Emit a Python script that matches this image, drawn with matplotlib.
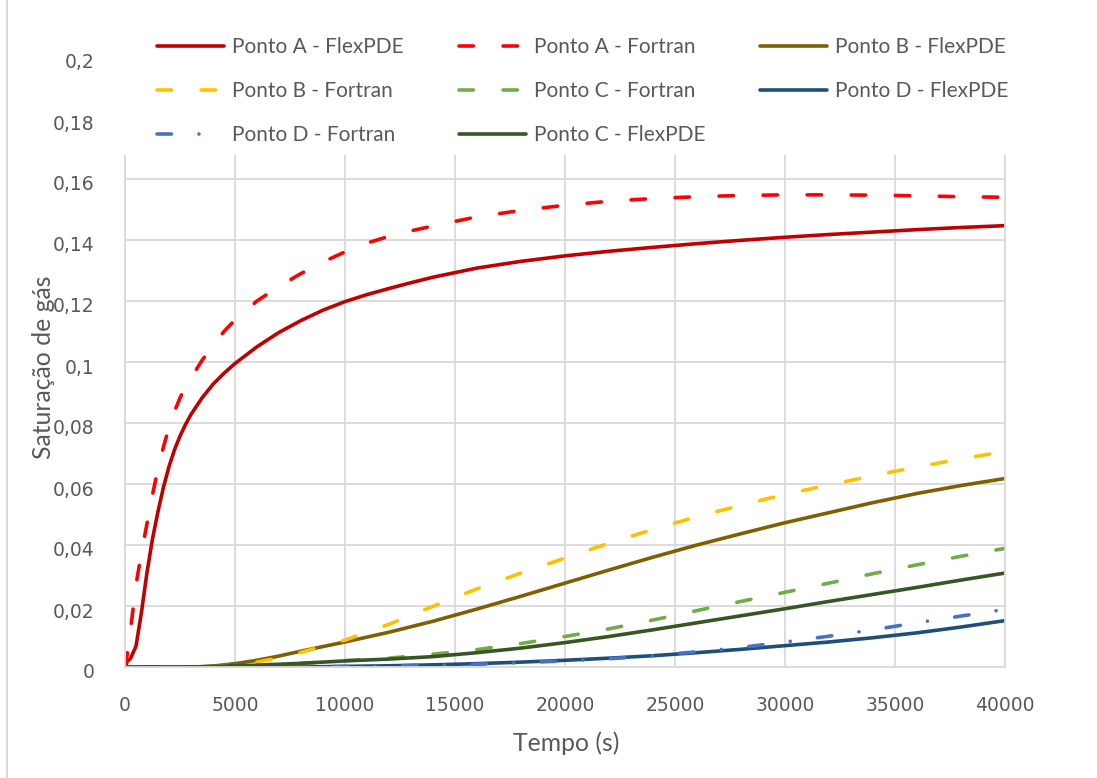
import matplotlib
matplotlib.use("Agg")
import matplotlib.pyplot as plt
from matplotlib.patches import Rectangle
from matplotlib.lines import Line2D
import matplotlib.transforms as mtransforms

# ---- data -------------------------------------------------------------
# point A reacts fast, so it is sampled more densely at early times
tempo_a = [0, 100, 250, 500, 750, 1000, 1250, 1500, 1750, 2000, 2250, 2500,
           2750, 3000, 3500, 4000, 4500, 5000, 6000, 7000, 8000, 9000, 10000,
           11000, 12000, 13000, 14000, 16000, 18000, 20000, 22000, 24000,
           26000, 28000, 30000, 32000, 34000, 36000, 38000, 40000]

a_flexpde = [0.000, 0.0018, 0.0028, 0.0068, 0.018, 0.031, 0.042, 0.051,
             0.059, 0.0657, 0.0712, 0.0757, 0.0795, 0.0828, 0.0882, 0.0927,
             0.0963, 0.0995, 0.1050, 0.1097, 0.1136, 0.1170, 0.1198, 0.1221,
             0.1241, 0.1260, 0.1278, 0.1308, 0.1330, 0.1348, 0.1363, 0.1376,
             0.1388, 0.1399, 0.1409, 0.1418, 0.1426, 0.1434, 0.1441, 0.1447]

a_fortran = [0.000, 0.004, 0.012, 0.027, 0.0375, 0.047, 0.0565, 0.065,
             0.0722, 0.0785, 0.0838, 0.0882, 0.0918, 0.0948, 0.1005, 0.1055,
             0.1100, 0.1138, 0.1200, 0.1248, 0.1290, 0.1328, 0.1361, 0.1390,
             0.1412, 0.1430, 0.1446, 0.1476, 0.1497, 0.1514, 0.1527, 0.1536,
             0.1542, 0.1546, 0.1548, 0.1548, 0.1547, 0.1545, 0.1542, 0.1540]

tempo = [0, 1000, 2000, 3000, 3500, 4000, 5000, 6000, 7000, 8000, 9000,
         10000, 12000, 14000, 16000, 18000, 20000, 22000, 24000, 26000,
         28000, 30000, 32000, 34000, 36000, 38000, 40000]

b_flexpde = [0, 0, 0, 0, 0.0001, 0.0003, 0.0011, 0.0022, 0.0036, 0.0052,
             0.0067, 0.0082, 0.0114, 0.0150, 0.0190, 0.0232, 0.0275, 0.0318,
             0.0360, 0.0400, 0.0437, 0.0473, 0.0506, 0.0539, 0.0569, 0.0595,
             0.0618]

b_fortran = [0, 0, 0, 0, 0, 0.0001, 0.0007, 0.0016, 0.0030, 0.0048, 0.0068,
             0.0088, 0.0140, 0.0199, 0.0256, 0.0308, 0.0357, 0.0406, 0.0451,
             0.0493, 0.0530, 0.0566, 0.0597, 0.0627, 0.0656, 0.0682, 0.0707]

c_fortran = [0, 0, 0, 0, 0.0001, 0.0002, 0.0004, 0.0006, 0.0009, 0.0012,
             0.0016, 0.0021, 0.0029, 0.0042, 0.0057, 0.0077, 0.0100, 0.0125,
             0.0154, 0.0185, 0.0215, 0.0245, 0.0275, 0.0306, 0.0335, 0.0363,
             0.0389]

d_flexpde = [0, 0, 0, 0, 0, 0, 0, 0, 0, 0, 0.0001, 0.0002, 0.0004, 0.0007,
             0.0011, 0.0016, 0.0022, 0.0029, 0.0037, 0.0047, 0.0058, 0.0070,
             0.0082, 0.0096, 0.0112, 0.0131, 0.0152]

d_fortran = [0, 0, 0, 0, 0, 0, 0, 0, 0, 0, 0.0001, 0.0002, 0.0004, 0.0006,
             0.0009, 0.0014, 0.0020, 0.0027, 0.0037, 0.0050, 0.0064, 0.0082,
             0.0101, 0.0122, 0.0145, 0.0167, 0.0189]

c_flexpde = [0, 0, 0, 0, 0.0001, 0.0002, 0.0004, 0.0006, 0.0009, 0.0012,
             0.0016, 0.0020, 0.0026, 0.0034, 0.0047, 0.0062, 0.0080, 0.0100,
             0.0122, 0.0145, 0.0168, 0.0191, 0.0215, 0.0238, 0.0261, 0.0285,
             0.0308]

series_labels = ["Ponto A - FlexPDE", "Ponto A - Fortran", "Ponto B - FlexPDE",
                 "Ponto B - Fortran", "Ponto C - Fortran", "Ponto D - FlexPDE",
                 "Ponto D - Fortran", "Ponto C - FlexPDE"]

x_ticks = [0, 5000, 10000, 15000, 20000, 25000, 30000, 35000, 40000]
x_tick_labels = ["0", "5000", "10000", "15000", "20000", "25000", "30000",
                 "35000", "40000"]
y_ticks = [0, 0.02, 0.04, 0.06, 0.08, 0.10, 0.12, 0.14, 0.16, 0.18, 0.20]
y_tick_labels = ["0", "0,02", "0,04", "0,06", "0,08", "0,1", "0,12", "0,14",
                 "0,16", "0,18", "0,2"]

# ---- styling ----------------------------------------------------------
TEXT = "#595959"
GRID = "#d9d9d9"
LW = 2.6
DASH = (0, (4, 8.2))
DASHDOT = (0, (4, 7.6, 0.01, 7.6))

W, H = 1097, 778
fig = plt.figure(figsize=(W / 100, H / 100), dpi=100)
ax = fig.add_axes([125 / W, 1 - 667 / H, 880 / W, 610 / H])

styles = [
    (tempo_a, a_flexpde, "#c00000", "-"),
    (tempo_a, a_fortran, "#ff0000", DASH),
    (tempo, b_flexpde, "#7f6000", "-"),
    (tempo, b_fortran, "#ffc000", DASH),
    (tempo, c_fortran, "#70ad47", DASH),
    (tempo, d_flexpde, "#1f4e79", "-"),
    (tempo, d_fortran, "#4472c4", DASHDOT),
    (tempo, c_flexpde, "#375623", "-"),
]

handles = []
for (tt, vals, color, ls), label in zip(styles, series_labels):
    (ln,) = ax.plot(tt, vals, color=color, lw=LW, linestyle=ls,
                    dash_capstyle="round", solid_capstyle="round",
                    solid_joinstyle="round", label=label, zorder=2)
    handles.append(ln)

ax.set_xlim(0, 40000)
ax.set_ylim(0, 0.2)
ax.set_xticks(x_ticks)
ax.set_xticklabels(x_tick_labels)
ax.set_yticks(y_ticks)
ax.set_yticklabels(y_tick_labels)

ax.grid(True, color=GRID, lw=1.3)
ax.set_axisbelow(True)
ax.spines["top"].set_visible(False)
for side in ("left", "bottom", "right"):
    ax.spines[side].set_color(GRID)
    ax.spines[side].set_linewidth(1.3)

ax.tick_params(axis="both", length=0, labelcolor=TEXT, labelsize=13.5)
ax.tick_params(axis="y", pad=22)
ax.tick_params(axis="x", pad=21)
for lbl in ax.get_yticklabels():
    lbl.set_transform(lbl.get_transform() +
                      mtransforms.ScaledTranslation(0, -4 / 100, fig.dpi_scale_trans))

# white panel behind the legend
ax.add_patch(Rectangle((112 / W, 1 - 155 / H), (1015 - 112) / W, (155 - 40) / H,
                       transform=fig.transFigure, facecolor="white",
                       edgecolor="none", clip_on=False, zorder=4))

# legend entries are laid out row by row
order = [0, 3, 6, 1, 4, 7, 2, 5]
LFS = 15.0
fs_px = LFS * 100 / 72
leg = ax.legend([handles[i] for i in order], [series_labels[i] for i in order],
                ncol=3, loc="upper left",
                bbox_to_anchor=(157 / W, 1 - 37 / H),
                bbox_transform=fig.transFigure, frameon=False,
                prop=dict(family="Lato", size=LFS),
                handlelength=67 / fs_px, handletextpad=8 / fs_px,
                columnspacing=55 / fs_px, labelspacing=1.15,
                borderpad=0, borderaxespad=0)
for t in leg.get_texts():
    t.set_color(TEXT)
leg.set_zorder(5)

TFS = 17.8
fig.text(566 / W, 1 - 743 / H, "Tempo (s)", ha="center", va="center",
         family="Lato", size=TFS, color=TEXT)
fig.text(44 / W, 1 - 367 / H, "Saturação de gás", ha="center", va="center",
         rotation=90, family="Lato", size=TFS, color=TEXT)

# outer frame edge on the left
fig.add_artist(Line2D([6.5 / W, 6.5 / W], [0, 1], transform=fig.transFigure,
                      color=GRID, lw=1.5))

fig.savefig("out.png", dpi=100, facecolor="white")
